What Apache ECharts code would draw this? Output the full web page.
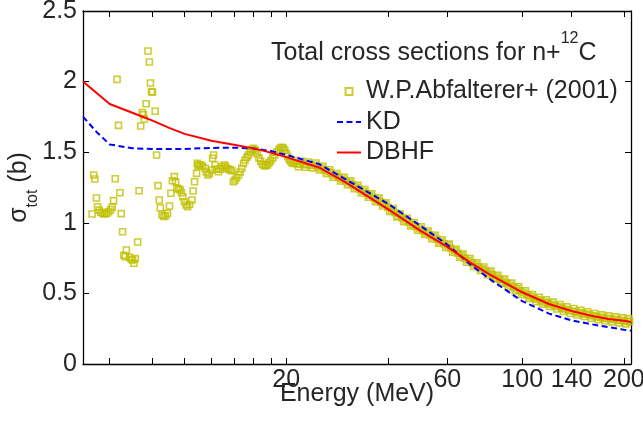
<!DOCTYPE html>
<html><head><meta charset="utf-8">
<script src="https://cdn.jsdelivr.net/npm/echarts@6/dist/echarts.min.js"></script>
<style>html,body{margin:0;padding:0;background:#fff}#c{width:643px;height:421px}</style>
</head><body><div id="c"></div>
<script>
// ---- data ----
const expEnergy = [
  5.32,5.38,5.42,5.48,5.52,5.58,5.65,5.72,5.8,5.88,5.96,6.04,6.1,6.16,6.23,6.31,6.37,6.43,6.49,6.55,
  6.6,6.67,6.72,6.87,6.95,7.01,7.08,7.14,7.26,7.33,7.41,7.49,7.55,7.6,7.69,7.79,7.86,7.92,7.98,8.03,
  8.18,8.26,8.34,8.41,8.47,8.58,8.68,8.78,8.9,9.02,9.11,9.2,9.32,9.4,9.49,9.6,9.7,9.79,9.88,9.99,
  10.1,10.2,10.35,10.51,10.6,10.7,10.85,10.9,10.95,11.05,11.17,11.3,11.5,11.6,11.72,11.85,12.04,12.1,12.18,12.31,
  12.45,12.6,12.75,12.9,13.1,13.2,13.34,13.5,13.65,13.8,13.95,14.1,14.25,14.44,14.6,14.77,14.95,15.11,15.3,15.45,
  15.65,15.85,16.0,16.2,16.4,16.6,16.8,17.0,17.2,17.4,17.6,17.8,18.0,18.25,18.5,18.75,19.0,19.2,19.4,19.6,
  19.8,20.0,20.2,20.4,20.6,20.8,
  21.0,21.5,22.0,22.5,23.0,23.6,24.2,24.8,25.4,26.0,26.6,27.2,27.9,28.6,29.3,30.0,30.7,31.4,32.2,33.0,
  33.8,34.6,35.4,36.3,37.2,38.1,39.0,40.0,41.0,42.0,43.0,44.0,45.1,46.2,47.3,48.4,49.6,50.8,52.0,53.3,
  54.6,55.9,57.2,58.6,60.0,61.5,63.0,64.5,66.0,67.6,69.2,70.9,72.6,74.3,76.1,77.9,79.8,81.7,83.7,85.7,
  87.7,89.8,92.0,94.2,96.4,98.7,101,103.5,106,108.5,111,113.7,116.4,119.2,122,125,128,131,134,137.2,
  140.5,143.9,147.3,150.8,154.4,158,162,166,170,174,178,182.5,187,191.5,196,200.5,205,208,
  21.25,21.75,22.25,22.75,23.3,23.9,24.5,25.1,25.7,26.3,26.9,27.55,28.25,28.95,29.65,30.35,31.05,31.8,32.6,33.4,
  34.2,35.0,35.85,36.75,37.65,38.55,39.5,40.5,41.5,42.5,43.5,44.55,45.65,46.75,47.85,49.0,50.2,51.4,52.65,53.95,
  55.25,56.55,57.9,59.3,60.75,62.25,63.75,65.25,66.8,68.4,70.05,71.75,73.45,75.2,77.0,78.85,80.75,82.7,84.7,86.7,
  88.75,90.9,93.1,95.3,97.55,99.85,102.25,104.75,107.25,109.75,112.35,115.05,117.8,120.6,123.5,126.5,129.5,132.5,135.6,138.85,
  142.2,145.6,149.05,152.6,156.2,160,164,168,172,176,180.25,184.75,189.25,193.75,198.25,202.75,206.5
];
const expSigma = [
  1.062,1.338,1.31,1.176,1.114,1.09,1.075,1.067,1.063,1.067,1.078,1.093,1.11,1.157,1.312,2.016,1.69,1.213,1.065,0.937,
  0.77,0.76,0.807,0.755,0.74,0.737,0.713,0.746,0.864,1.227,1.686,1.78,1.765,1.735,1.843,2.217,2.139,1.99,1.93,1.925,
  1.79,1.48,1.263,1.161,1.107,1.055,1.045,1.05,1.067,1.119,1.209,1.298,1.327,1.291,1.244,1.24,1.232,1.213,1.185,1.149,
  1.126,1.114,1.13,1.161,1.225,1.291,1.35,1.421,1.402,1.41,1.409,1.40,1.386,1.36,1.338,1.35,1.374,1.457,1.48,1.409,
  1.38,1.362,1.38,1.397,1.409,1.40,1.386,1.38,1.375,1.369,1.291,1.303,1.32,1.338,1.36,1.386,1.42,1.445,1.465,1.48,
  1.50,1.52,1.527,1.515,1.49,1.46,1.435,1.415,1.405,1.405,1.41,1.425,1.44,1.46,1.48,1.50,1.515,1.53,1.535,1.53,
  1.515,1.49,1.47,1.45,1.435,1.425,
  1.421,1.418,1.416,1.414,1.412,1.41,1.407,1.401,1.387,1.375,1.362,1.35,1.336,1.322,1.309,1.296,1.284,1.27,1.254,1.238,
  1.223,1.208,1.193,1.177,1.162,1.147,1.131,1.111,1.091,1.071,1.052,1.036,1.02,1.004,0.989,0.974,0.959,0.944,0.929,0.914,
  0.899,0.883,0.868,0.852,0.837,0.82,0.802,0.784,0.767,0.749,0.733,0.718,0.703,0.689,0.674,0.66,0.645,0.631,0.616,0.601,
  0.588,0.574,0.56,0.546,0.533,0.519,0.506,0.491,0.477,0.465,0.457,0.448,0.439,0.431,0.422,0.413,0.405,0.396,0.388,0.381,
  0.375,0.37,0.364,0.358,0.353,0.347,0.341,0.335,0.33,0.326,0.323,0.319,0.316,0.312,0.309,0.305,0.302,0.3,
  1.44,1.397,1.435,1.393,1.431,1.389,1.424,1.374,1.401,1.349,1.376,1.323,1.349,1.296,1.323,1.27,1.297,1.242,1.266,1.211,
  1.236,1.181,1.205,1.15,1.175,1.119,1.141,1.081,1.101,1.042,1.064,1.008,1.032,0.977,1.002,0.947,0.972,0.917,0.942,0.887,
  0.911,0.856,0.88,0.825,0.849,0.791,0.813,0.756,0.778,0.721,0.746,0.691,0.716,0.662,0.687,0.633,0.658,0.604,0.629,0.575,
  0.601,0.547,0.573,0.52,0.546,0.493,0.519,0.464,0.491,0.441,0.473,0.424,0.455,0.407,0.438,0.389,0.421,0.372,0.405,0.358,
  0.393,0.347,0.381,0.336,0.37,0.324,0.358,0.313,0.348,0.305,0.341,0.298,0.334,0.291,0.327,0.284,0.321
];
const kdEnergy = [5,5.5,6,7,8,10,12,14,16,18,20,25,30,40,50,60,70,80,100,120,140,160,180,200,210];
const kdSigma  = [1.752,1.64,1.555,1.528,1.522,1.523,1.53,1.532,1.527,1.508,1.481,1.416,1.308,1.136,0.978,0.846,0.707,0.603,0.445,0.357,0.309,0.282,0.261,0.243,0.236];
const dbhfEnergy = [5,6,7,8,9,10,12,14,16,18,20,25,30,40,50,60,70,80,100,120,140,160,180,200,210];
const dbhfSigma  = [2.0,1.841,1.779,1.725,1.672,1.63,1.581,1.553,1.527,1.497,1.465,1.392,1.286,1.097,0.943,0.83,0.72,0.635,0.508,0.425,0.375,0.342,0.318,0.306,0.298];
const xTickValues = [6,8,10,12,14,16,18,20,40,60,100,140,200];
const xLabelValues = [20,60,100,140,200];
const seriesNames = ['W.P.Abfalterer+ (2001)','KD','DBHF'];

// ---- chart ----
const FONT = 'Liberation Sans';
const TXT = '#262626';
const FS = 25;
const pairs = (xs, ys) => xs.map((x, i) => [x, ys[i]]);
const axisLine = {show: true, onZero: false, lineStyle: {color: '#000', width: 1.3}};
const chart = echarts.init(document.getElementById('c'), null, {renderer: 'canvas'});
chart.setOption({
  animation: false,
  backgroundColor: '#fff',
  grid: {left: 83, right: 12, top: 11, bottom: 57, containLabel: false, outerBoundsMode: 'none'},
  title: {
    text: '{a|Total cross sections for n+}{b|12}{a|C}',
    left: 271, top: 31, padding: 0,
    textStyle: {fontWeight: 'normal', rich: {
      a: {fontFamily: FONT, fontSize: FS, fontWeight: 'normal', lineHeight: 35, color: TXT, verticalAlign: 'bottom'},
      b: {fontFamily: FONT, fontSize: 16, fontWeight: 'normal', lineHeight: 16, color: TXT, verticalAlign: 'top'}
    }}
  },
  legend: {
    orient: 'vertical', left: 336, top: 79, padding: 0,
    itemWidth: 24, itemHeight: 7, itemGap: 5.5, symbolKeepAspect: true,
    textStyle: {fontFamily: FONT, fontSize: FS, color: TXT},
    data: [
      {name: seriesNames[0], icon: 'path://M0,0L10,0L10,10L0,10Z'},
      {name: seriesNames[1], itemStyle: {opacity: 0}},
      {name: seriesNames[2], itemStyle: {opacity: 0}}
    ]
  },
  xAxis: [{
    type: 'log', logBase: 10, min: 5, max: 210, position: 'bottom',
    axisLine: axisLine,
    axisTick: {show: true, inside: true, length: 6, customValues: xTickValues, lineStyle: {color: '#000', width: 1}},
    axisLabel: {customValues: xLabelValues, fontFamily: FONT, fontSize: FS, color: TXT, margin: 4},
    minorTick: {show: false}, splitLine: {show: false},
    name: 'Energy (MeV)', nameLocation: 'middle', nameGap: 18, nameMoveOverlap: false,
    nameTextStyle: {fontFamily: FONT, fontSize: FS, color: TXT}
  }, {
    type: 'log', logBase: 10, min: 5, max: 210, position: 'top',
    axisLine: axisLine,
    axisTick: {show: true, inside: true, length: 6, customValues: xTickValues, lineStyle: {color: '#000', width: 1}},
    axisLabel: {show: false}, minorTick: {show: false}, splitLine: {show: false}
  }],
  yAxis: [{
    type: 'value', min: 0, max: 2.5, interval: 0.5, position: 'left',
    axisLine: axisLine,
    axisTick: {show: true, inside: true, length: 6, lineStyle: {color: '#000', width: 1}},
    axisLabel: {fontFamily: FONT, fontSize: FS, color: TXT, margin: 6},
    splitLine: {show: false},
    name: '{a|σ}{s|tot}{a| (b)}', nameLocation: 'middle', nameGap: 42, nameMoveOverlap: false,
    nameTextStyle: {rich: {
      a: {fontFamily: FONT, fontSize: FS, lineHeight: 34, color: TXT, verticalAlign: 'top'},
      s: {fontFamily: FONT, fontSize: 16, lineHeight: 16, color: TXT, verticalAlign: 'bottom'}
    }}
  }, {
    type: 'value', min: 0, max: 2.5, interval: 0.5, position: 'right',
    axisLine: axisLine,
    axisTick: {show: true, inside: true, length: 6, lineStyle: {color: '#000', width: 1}},
    axisLabel: {show: false}, splitLine: {show: false}
  }],
  series: [{
    name: seriesNames[0], type: 'scatter', xAxisIndex: 0, yAxisIndex: 0,
    symbol: 'rect', symbolSize: 6,
    itemStyle: {color: 'rgba(0,0,0,0)', borderColor: '#BFBF00', borderWidth: 1.6},
    data: pairs(expEnergy, expSigma)
  }, {
    name: seriesNames[1], type: 'line', xAxisIndex: 0, yAxisIndex: 0,
    symbol: 'none', itemStyle: {color: '#0000FF'},
    lineStyle: {color: '#0000FF', width: 2, type: [6, 3.5]},
    data: pairs(kdEnergy, kdSigma)
  }, {
    name: seriesNames[2], type: 'line', xAxisIndex: 0, yAxisIndex: 0,
    symbol: 'none', itemStyle: {color: '#FF0000'},
    lineStyle: {color: '#FF0000', width: 2},
    data: pairs(dbhfEnergy, dbhfSigma)
  }]
});
</script></body></html>
